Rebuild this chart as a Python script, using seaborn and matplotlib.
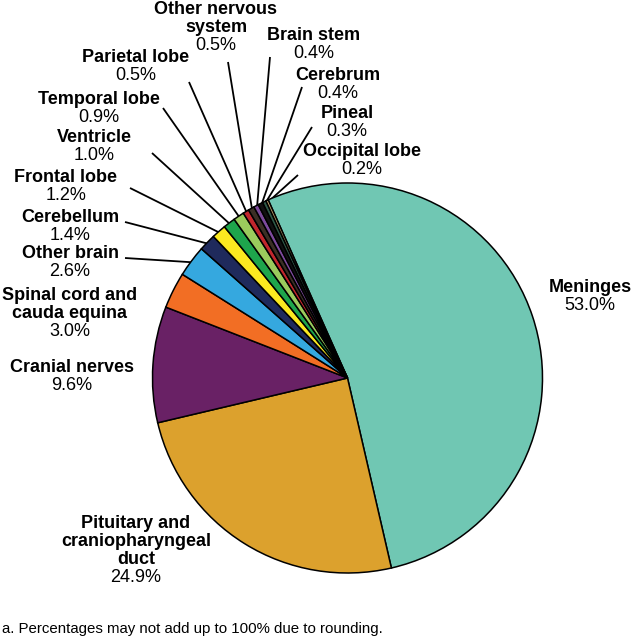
import numpy as np
import matplotlib
matplotlib.use("Agg")
import matplotlib.pyplot as plt
import seaborn as sns

# tumour site shares (%), clockwise from the top
sites = ["Meninges", "Pituitary and\ncraniopharyngeal\nduct", "Cranial nerves",
         "Spinal cord and\ncauda equina", "Other brain", "Cerebellum", "Frontal lobe",
         "Ventricle", "Temporal lobe", "Parietal lobe", "Other nervous\nsystem",
         "Brain stem", "Cerebrum", "Pineal", "Occipital lobe"]
shares = [53.0, 24.9, 9.6, 3.0, 2.6, 1.4, 1.2, 1.0, 0.9, 0.5, 0.5, 0.4, 0.4, 0.3, 0.2]
colors = ["#70c7b3", "#dca12d", "#692165", "#f26e24", "#35a8df", "#1f2a5c", "#fbe920",
          "#1ea54c", "#9bcb5d", "#c1272d", "#3b2f25", "#7d4a9c", "#111111", "#2f5a48",
          "#c8a96e"]
footnote = "a. Percentages may not add up to 100% due to rounding."

# label layout in pixel space: (center x, y of first line), leader start (None = no line)
label_pos = [(590, 287), (136, 523), (72, 367), (70, 295), (70, 254), (70, 217),
             (66, 178), (94, 137), (99, 100), (136, 58), (216, 10), (314, 35),
             (338, 75), (347, 113), (362, 152)]
leader_from = [None, None, None, None, (125, 258), (125, 222), (130, 188), (152, 153),
               (163, 108), (189, 82), (228, 62), (270, 57), (302, 87), (312, 127),
               (298, 175)]

W, H = 634, 640
CX, CY, R = 347.5, 378, 195


def P(x, y):
    return x, H - y


sns.set_theme(style="white")
plt.rcParams['font.family'] = ['Liberation Sans', 'DejaVu Sans']

fig = plt.figure(figsize=(W / 100, H / 100), dpi=100)
ax = fig.add_axes([0, 0, 1, 1])

wedges, _ = ax.pie(shares, colors=sns.color_palette(colors), startangle=114,
                   counterclock=False, center=P(CX, CY), radius=R,
                   wedgeprops=dict(edgecolor="black", linewidth=1.1))
ax.set_xlim(0, W)
ax.set_ylim(0, H)
ax.set_aspect("equal")
ax.axis("off")

line_h = 18
for w, name, val, (lx, ly), src in zip(wedges, sites, shares, label_pos, leader_from):
    lines = name.split("\n")
    for i, ln in enumerate(lines):
        ax.text(*P(lx, ly + i * line_h), ln, ha="center", va="center",
                fontsize=13, fontweight="bold", color="black")
    ax.text(*P(lx, ly + len(lines) * line_h), f"{val:.1f}%", ha="center", va="center",
            fontsize=13, color="black")
    if src is not None:
        mid = np.deg2rad((w.theta1 + w.theta2) / 2)
        ex = CX + R * 0.99 * np.cos(mid)
        ey = CY - R * 0.99 * np.sin(mid)
        ax.plot([src[0], ex], [H - src[1], H - ey], color="black", lw=1.3,
                solid_capstyle="butt", zorder=0.5)

ax.text(*P(2, 629), footnote, ha="left", va="center", fontsize=10.8, color="black")

fig.savefig("out.png", dpi=100)
